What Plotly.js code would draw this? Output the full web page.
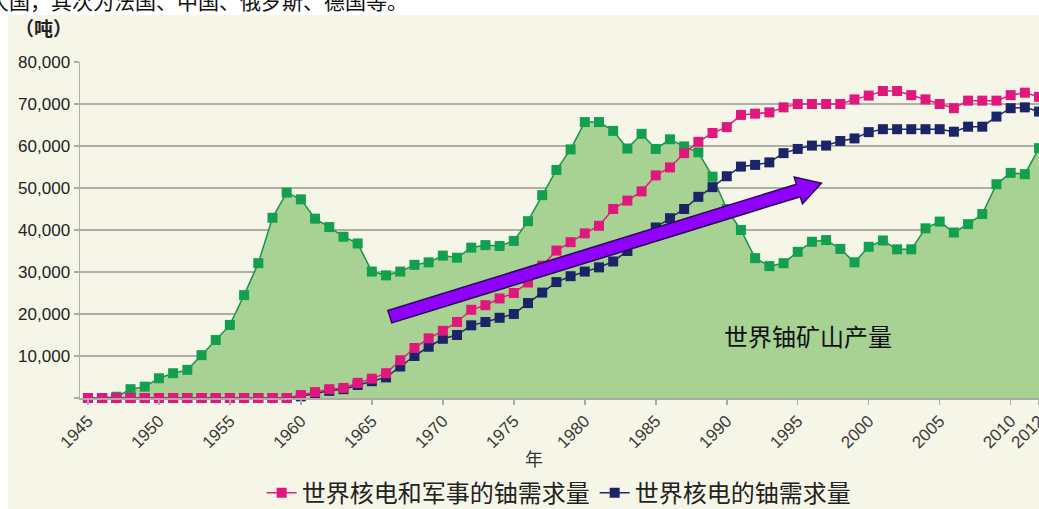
<!DOCTYPE html>
<html>
<head>
<meta charset="utf-8">
<script src="https://cdn.plot.ly/plotly-3.0.1.min.js"></script>
<style>
  html, body { margin:0; padding:0; background:#ffffff; width:1039px; height:509px; overflow:hidden; position:relative; }
  #toptext { position:absolute; left:-12px; top:-12px; font-family:"Noto Sans CJK SC","Noto Sans",sans-serif; font-size:21px; line-height:24px; color:#111; white-space:nowrap; }
  #chart { position:absolute; left:8px; top:15px; width:1092px; height:494px; }
</style>
</head>
<body>
<div id="toptext">大国，其次为法国、中国、俄罗斯、德国等。</div>
<div id="chart"></div>
<script>
const years = [];
for (let y = 1945; y <= 2012; y++) years.push(y);

const mineProduction = [
  0, 0, 300, 2100, 2700, 4700, 5900, 6700, 10200, 13800,
  17400, 24500, 32100, 42900, 48900, 47300, 42700, 40700, 38400, 36800,
  30100, 29200, 30100, 31700, 32300, 33900, 33400, 35800, 36400, 36200,
  37400, 42100, 48300, 54300, 59200, 65700, 65700, 63600, 59400, 62900,
  59300, 61600, 59900, 58500, 52700, 45000, 40000, 33300, 31400, 32100,
  34800, 37200, 37600, 35500, 32300, 36000, 37500, 35400, 35400, 40400,
  42000, 39400, 41400, 43800, 50900, 53600, 53300, 59500
];

const demandTotal = [
  0, 0, 0, 0, 0, 0, 0, 0, 0, 0,
  0, 0, 0, 0, 0, 700, 1400, 2100, 2400, 3600,
  4600, 5900, 9000, 11900, 14200, 16000, 18100, 21000, 22100, 23700,
  25000, 27500, 31500, 35100, 37100, 39200, 41000, 45000, 47000, 49200,
  53000, 54900, 58300, 61000, 63100, 64500, 67400, 67700, 68000, 69200,
  70000, 70000, 70000, 70000, 71100, 72000, 73100, 73100, 72100, 71100,
  70000, 69000, 70800, 70800, 70800, 72100, 72700, 71700
];

const demandNuclear = [
  0, 0, 0, 0, 0, 0, 0, 0, 0, 0,
  0, 0, 0, 0, 0, 400, 1000, 1700, 2100, 3100,
  4000, 4900, 7500, 10000, 12200, 14100, 15000, 17300, 18100, 19100,
  20000, 22600, 25100, 27600, 29000, 30100, 31100, 32500, 35000, 37600,
  40600, 42800, 45000, 47900, 50200, 52800, 55100, 55500, 56100, 58300,
  59300, 60100, 60100, 61200, 61800, 63300, 64000, 64000, 64000, 64000,
  64000, 63400, 64600, 64600, 67000, 69000, 69200, 68200
];

const xTickVals = [1945,1950,1955,1960,1965,1970,1975,1980,1985,1990,1995,2000,2005,2010,2012];
const xTickText = ['1945','1950','1955','1960','1965','1970','1975','1980','1985','1990','1995','2000','2005','2010','2012'];
const yTickVals = [0,10000,20000,30000,40000,50000,60000,70000,80000];
const yTickText = ['','10,000','20,000','30,000','40,000','50,000','60,000','70,000','80,000'];

const seriesNames = ['世界铀矿山产量', '世界核电和军事的铀需求量', '世界核电的铀需求量'];

const cjk = '"Noto Sans CJK SC", "Noto Sans", sans-serif';
const latin = '"Liberation Sans", Arial, sans-serif';

const traces = [
  {
    x: years, y: mineProduction, name: seriesNames[0], type: 'scatter', mode: 'lines+markers',
    fill: 'tozeroy', fillcolor: '#a8d194',
    line: {color: '#14954a', width: 1.5},
    marker: {symbol: 'square', size: 10, color: '#12a04f'},
    showlegend: false, cliponaxis: false
  },
  {
    x: years, y: demandNuclear, name: seriesNames[2], type: 'scatter', mode: 'lines+markers',
    line: {color: '#1f2868', width: 1.5},
    marker: {symbol: 'square', size: 10, color: '#1c2468'},
    legendrank: 2, cliponaxis: false
  },
  {
    x: years, y: demandTotal, name: seriesNames[1], type: 'scatter', mode: 'lines+markers',
    line: {color: '#e0207f', width: 1.5},
    marker: {symbol: 'square', size: 10, color: '#e0187e'},
    legendrank: 1, cliponaxis: false
  }
];

// big decorative arrow (trend), in data coordinates
const arrowPts = [
  [1966.13, 20836], [1994.907, 50896], [1994.751, 52603], [1996.669, 51120],
  [1995.333, 46232], [1995.177, 47939], [1966.403, 17879]
];
const arrowPath = 'M ' + arrowPts.map(p => p[0] + ',' + p[1]).join(' L ') + ' Z';

const layout = {
  width: 1092, height: 494,
  margin: {l: 72, r: 52.6, t: 47, b: 111, autoexpand: false},
  paper_bgcolor: '#f6f6e8', plot_bgcolor: '#f6f6e8',
  font: {family: latin, color: '#333'},
  xaxis: {
    range: [1944.44, 2012.56], tickvals: xTickVals, ticktext: xTickText, tickangle: -45,
    ticks: 'outside', ticklen: 5, tickcolor: '#aaa', tickwidth: 1.5,
    showgrid: false, zeroline: false, showline: true, linecolor: '#aaa', linewidth: 1.5,
    tickfont: {family: latin, size: 17, color: '#3a3a3a'}
  },
  yaxis: {
    range: [0, 80000], tickvals: yTickVals, ticktext: yTickText,
    ticks: 'outside', ticklen: 5, tickcolor: '#aaa', tickwidth: 1.5,
    showgrid: true, gridcolor: '#aeaea4', gridwidth: 1.5, zeroline: false,
    showline: true, linecolor: '#b0b0a8', linewidth: 1.5,
    tickfont: {family: latin, size: 17, color: '#222'}
  },
  legend: {
    orientation: 'h', x: 0.495, xanchor: 'center', y: -0.283, yanchor: 'middle',
    font: {family: cjk, size: 24, color: '#222'}, bgcolor: 'rgba(0,0,0,0)'
  },
  shapes: [{
    type: 'path', xref: 'x', yref: 'y', path: arrowPath, layer: 'above',
    fillcolor: '#9000ff', line: {color: '#2a0a50', width: 1.5}
  }],
  annotations: [
    {text: '（吨）', xref: 'paper', yref: 'paper', x: -0.0377, y: 1.104, showarrow: false,
     xanchor: 'center', yanchor: 'middle', font: {family: cjk, size: 19, color: '#222', weight: 'bold'}},
    {text: '年', xref: 'paper', yref: 'paper', x: 0.470, y: -0.18, showarrow: false,
     xanchor: 'center', yanchor: 'middle', font: {family: cjk, size: 18, color: '#333'}},
    {text: seriesNames[0], xref: 'x', yref: 'y', x: 1995.7, y: 15000, showarrow: false,
     xanchor: 'center', yanchor: 'middle', font: {family: cjk, size: 24, color: '#111'}}
  ]
};

Plotly.newPlot('chart', traces, layout, {displayModeBar: false, staticPlot: true});
</script>
</body>
</html>
